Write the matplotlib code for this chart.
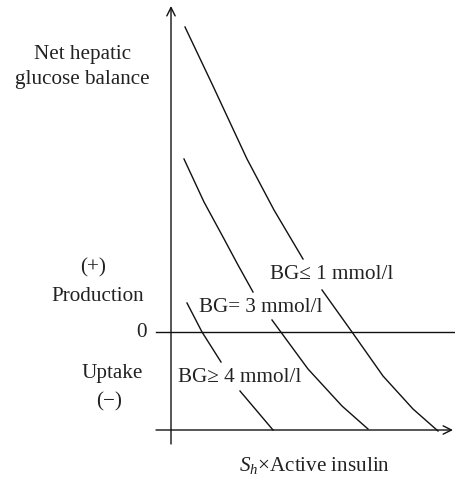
import numpy as np
import matplotlib
matplotlib.use("Agg")
import matplotlib.pyplot as plt

plt.rcParams['font.family'] = ['Liberation Serif', 'DejaVu Serif']
plt.rcParams['mathtext.fontset'] = 'custom'
plt.rcParams['mathtext.rm'] = 'Liberation Serif'
plt.rcParams['mathtext.it'] = 'Liberation Serif:italic'

# Curves (schematic units; origin = y-axis / zero line), NaN = gap for label
bg1_x = [14, 42, 76, 103, 132, np.nan, 151, 181, 212, 242, 267]
bg1_y = [305, 246, 173, 122, 73, np.nan, 42, 0, -44, -77, -99]
bg3_x = [13, 33, 52, 67, 82, np.nan, 101, 137, 171, 197]
bg3_y = [173, 130, 95, 67, 40, np.nan, 12, -37, -74, -97]
bg4_x = [16, 31, 50, np.nan, 69, 102]
bg4_y = [29, 0, -30, np.nan, -59, -98]

curve_labels = ["BG\u2264 1 mmol/l", "BG= 3 mmol/l", "BG\u2265 4 mmol/l"]

fig = plt.figure(figsize=(4.56, 4.81), dpi=100)
ax = fig.add_axes([0, 0, 1, 1])
ax.set_xlim(-171, 285)
ax.set_ylim(-148, 333)
ax.axis('off')

lw = 1.0
col = '#111111'
# axes
ax.annotate('', xy=(0, 326), xytext=(0, -112),
            arrowprops=dict(arrowstyle='->', lw=lw, color=col, mutation_scale=15,
                            shrinkA=0, shrinkB=0))
ax.annotate('', xy=(282, -98), xytext=(-15, -98),
            arrowprops=dict(arrowstyle='->', lw=lw, color=col, mutation_scale=15,
                            shrinkA=0, shrinkB=0))
ax.plot([-15, 285], [0, 0], color=col, lw=lw)

for xs, ys in [(bg1_x, bg1_y), (bg3_x, bg3_y), (bg4_x, bg4_y)]:
    ax.plot(xs, ys, color=col, lw=lw, solid_joinstyle='round')

fs = 15.2
tc = '#222222'
ax.text(99, 58, curve_labels[0], fontsize=fs, color=tc, ha='left', va='center')
ax.text(28, 25, curve_labels[1], fontsize=fs, color=tc, ha='left', va='center')
ax.text(7, -45, curve_labels[2], fontsize=fs, color=tc, ha='left', va='center')

ax.text(-88, 278, "Net hepatic", fontsize=fs, color=tc, ha='center', va='center')
ax.text(-89, 253, "glucose balance", fontsize=fs, color=tc, ha='center', va='center')
ax.text(-78, 65, "(+)", fontsize=fs, color=tc, ha='center', va='center')
ax.text(-73.5, 36, "Production", fontsize=fs, color=tc, ha='center', va='center')
ax.text(-24, 0, "0", fontsize=fs, color=tc, ha='right', va='center')
ax.text(-59, -41, "Uptake", fontsize=fs, color=tc, ha='center', va='center')
ax.text(-62, -69, "(\u2212)", fontsize=fs, color=tc, ha='center', va='center')
ax.text(144, -133, r"$S_h$" + "\u00d7Active insulin", fontsize=fs, color=tc,
        ha='center', va='center')

fig.savefig("out.png", dpi=100)
